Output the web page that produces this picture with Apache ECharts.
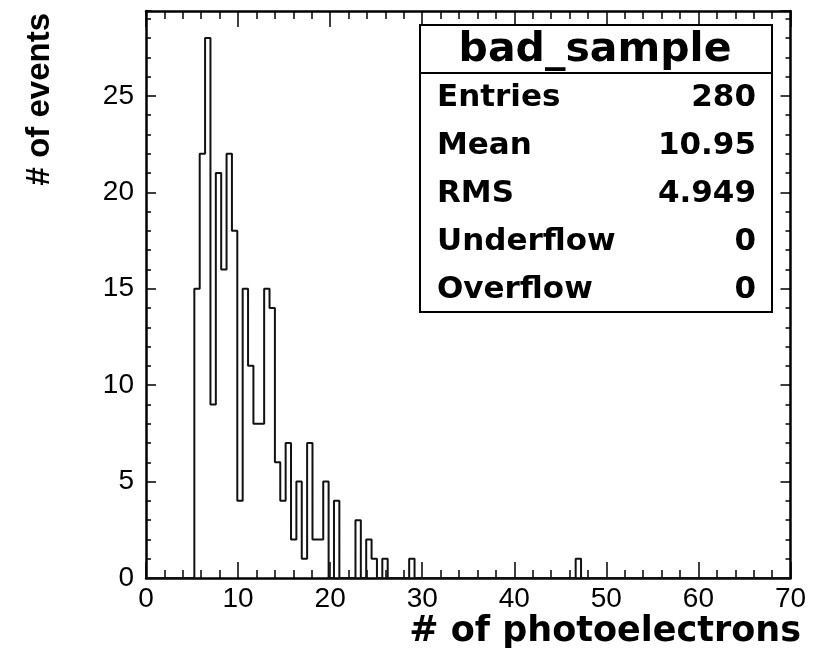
<!DOCTYPE html>
<html>
<head>
<meta charset="utf-8">
<script src="https://cdn.jsdelivr.net/npm/echarts@6/dist/echarts.min.js"></script>
<style>
html,body{margin:0;padding:0;background:#fff;}
#chart{width:822px;height:654px;}
</style>
</head>
<body>
<div id="chart"></div>
<script>
// Histogram definition: 120 bins from 0 to 70
var xMin = 0;
var xMax = 70;
var nBins = 120;
// Counts per bin
var counts = [
  0, 0, 0, 0, 0, 0, 0, 0, 0, 15,
  22, 28, 9, 21, 16, 22, 18, 4, 15, 11,
  8, 8, 15, 14, 6, 4, 7, 2, 5, 1,
  7, 2, 2, 5, 0, 4, 0, 0, 0, 3,
  0, 2, 1, 0, 1, 0, 0, 0, 0, 1,
  0, 0, 0, 0, 0, 0, 0, 0, 0, 0,
  0, 0, 0, 0, 0, 0, 0, 0, 0, 0,
  0, 0, 0, 0, 0, 0, 0, 0, 0, 0,
  1, 0, 0, 0, 0, 0, 0, 0, 0, 0,
  0, 0, 0, 0, 0, 0, 0, 0, 0, 0,
  0, 0, 0, 0, 0, 0, 0, 0, 0, 0,
  0, 0, 0, 0, 0, 0, 0, 0, 0, 0
];
var yMax = 29.4;
var xTickStep = 10, xMinorStep = 2;
var yTickStep = 5, yMinorStep = 1;

var histName = 'bad_sample';
var statNames = ['Entries', 'Mean', 'RMS', 'Underflow', 'Overflow'];
var statValues = ['280', '10.95', '4.949', '0', '0'];

var xTitle = '# of photoelectrons';
var yTitle = '# of events';

// Build step outline data from bin edges
var binW = (xMax - xMin) / nBins;
var lineData = [];
for (var k = 0; k < nBins; k++) {
  lineData.push([xMin + k * binW, counts[k]]);
}
lineData.push([xMax, 0]);

var chart = echarts.init(document.getElementById('chart'), null, {renderer: 'canvas'});

var labelFont = {fontFamily: '"Liberation Sans", Arial, sans-serif', fontSize: 28, color: '#000'};

function xAx(pos, interval, len, showLine, showLabel) {
  return {
    type: 'value', position: pos, min: xMin, max: xMax, interval: interval,
    axisLine: {show: showLine, onZero: false, lineStyle: {color: '#000', width: 2.5}},
    axisTick: {show: true, inside: true, length: len, lineStyle: {color: '#000', width: 1.5}},
    axisLabel: showLabel ? Object.assign({show: true, margin: 7}, labelFont) : {show: false},
    splitLine: {show: false}
  };
}
function yAx(pos, interval, len, showLine, showLabel) {
  return {
    type: 'value', position: pos, min: 0, max: yMax, interval: interval,
    axisLine: {show: showLine, onZero: false, lineStyle: {color: '#000', width: 2.5}},
    axisTick: {show: true, inside: true, length: len, lineStyle: {color: '#000', width: 1.5}},
    axisLabel: showLabel ? Object.assign({show: true, margin: 12, showMaxLabel: false,
      formatter: function (v) { return (v % 5 === 0) ? String(v) : ''; }}, labelFont) : {show: false},
    splitLine: {show: false}
  };
}

var boxL = 420, boxR = 772, boxT = 25, boxB = 312, boxSep = 73;
var graphics = [
  {type: 'rect', shape: {x: boxL, y: boxT, width: boxR - boxL, height: boxB - boxT},
   style: {fill: '#fff', stroke: '#000', lineWidth: 2}, z: 100},
  {type: 'line', shape: {x1: boxL, y1: boxSep, x2: boxR, y2: boxSep},
   style: {stroke: '#000', lineWidth: 2}, z: 101},
  {type: 'text', x: (boxL + boxR) / 2 - 1, y: (boxT + boxSep) / 2 + 1, z: 102,
   style: {text: histName, font: 'bold 41px "DejaVu Sans", sans-serif', fill: '#000',
           textAlign: 'center', textVerticalAlign: 'middle'}},
  {type: 'text', x: 801, y: 632, z: 102,
   style: {text: xTitle, font: 'bold 35px "DejaVu Sans", sans-serif', fill: '#000',
           textAlign: 'right', textVerticalAlign: 'middle'}},
  {type: 'text', x: 40, y: 13, rotation: Math.PI / 2, z: 102,
   style: {text: yTitle, font: 'bold 33px "Liberation Sans", Arial, sans-serif', fill: '#000',
           textAlign: 'right', textVerticalAlign: 'middle'}}
];
for (var i = 0; i < statNames.length; i++) {
  var yy = 98 + i * 48;
  graphics.push({type: 'text', x: 437, y: yy, z: 102,
    style: {text: statNames[i], font: 'bold 31px "DejaVu Sans", sans-serif', fill: '#000',
            textAlign: 'left', textVerticalAlign: 'middle'}});
  graphics.push({type: 'text', x: 756, y: yy, z: 102,
    style: {text: statValues[i], font: 'bold 31px "DejaVu Sans", sans-serif', fill: '#000',
            textAlign: 'right', textVerticalAlign: 'middle'}});
}

var option = {
  backgroundColor: '#fff',
  animation: false,
  grid: {left: 146, right: 31.5, top: 11, bottom: 76, containLabel: false},
  xAxis: [
    xAx('bottom', xTickStep, 16, true, true),
    xAx('bottom', xMinorStep, 8, false, false),
    xAx('top', xTickStep, 16, true, false),
    xAx('top', xMinorStep, 8, false, false)
  ],
  yAxis: [
    yAx('left', yTickStep, 10, true, true),
    yAx('left', yMinorStep, 5, false, false),
    yAx('right', yTickStep, 10, true, false),
    yAx('right', yMinorStep, 5, false, false)
  ],
  series: [{
    type: 'line',
    name: histName,
    xAxisIndex: 0, yAxisIndex: 0,
    data: lineData,
    step: 'end',
    showSymbol: false,
    symbol: 'none',
    lineStyle: {color: '#111', width: 2},
    clip: true
  }],
  graphic: graphics
};
chart.setOption(option);
</script>
</body>
</html>
